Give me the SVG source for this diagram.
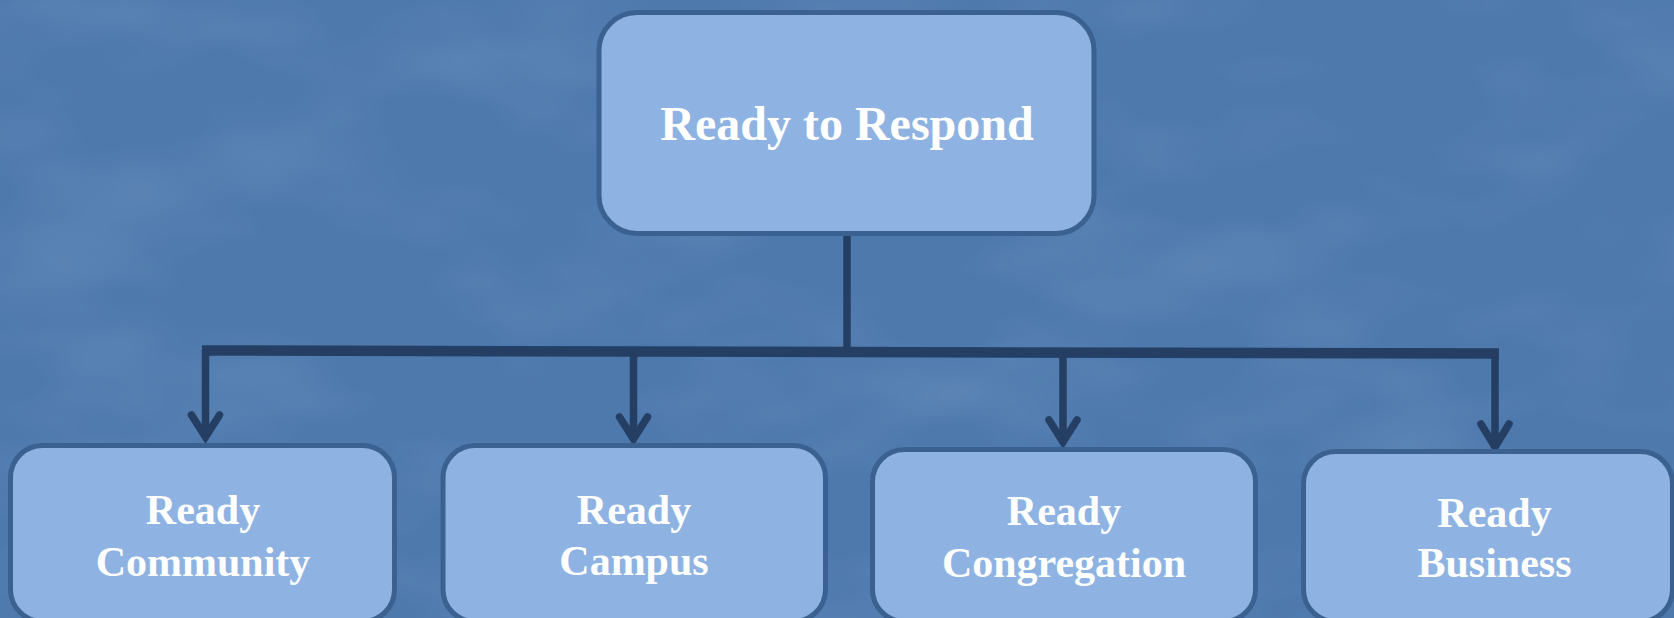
<svg xmlns="http://www.w3.org/2000/svg" width="1674" height="618" viewBox="0 0 1674 618">
  <style>
    .box { fill: #8eb3e2; stroke: #3a6190; stroke-width: 5; }
    .lbl { font-family: "Liberation Serif", "Times New Roman", serif; font-weight: bold; fill: #ffffff; text-anchor: middle; }
    .top { font-size: 48px; }
    .sub { font-size: 42px; }
    .conn { fill: none; stroke: #243f63; stroke-width: 7.5; }
    .bus { fill: none; stroke: #243f63; stroke-width: 10.5; }
    .head { fill: none; stroke: #243f63; stroke-width: 7.5; stroke-linecap: round; stroke-linejoin: miter; }
  </style>
  <defs>
    <filter id="mottle" x="0" y="0" width="100%" height="100%">
      <feTurbulence type="fractalNoise" baseFrequency="0.004 0.009" numOctaves="3" seed="7"/>
      <feColorMatrix type="matrix" values="0 0 0 0 0.40  0 0 0 0 0.57  0 0 0 0 0.78  0.9 0 0 0 -0.40"/>
    </filter>
  </defs>
  <rect x="0" y="0" width="1674" height="618" fill="#4e79ad"/>
  <rect x="0" y="0" width="1674" height="618" filter="url(#mottle)" opacity="0.45"/>

  <g id="connectors">
    <line class="conn" x1="847" y1="236" x2="847" y2="352"/>
    <line class="bus" x1="202" y1="350.5" x2="1499" y2="353.5"/>
    <line class="conn" x1="205.5" y1="350" x2="205.5" y2="436"/>
    <polyline class="head" points="191.5,415 205.5,437 219.5,415"/>
    <line class="conn" x1="633.5" y1="351" x2="633.5" y2="438"/>
    <polyline class="head" points="619.5,417 633.5,439 647.5,417"/>
    <line class="conn" x1="1063" y1="352" x2="1063" y2="441"/>
    <polyline class="head" points="1049,420 1063,442 1077,420"/>
    <line class="conn" x1="1495" y1="353" x2="1495" y2="446"/>
    <polyline class="head" points="1481,424 1495,447 1509,424"/>
  </g>

  <g id="ready-to-respond">
    <rect class="box" x="599" y="12.5" width="495" height="221" rx="38" ry="38"/>
    <text class="lbl top" x="847" y="140">Ready to Respond</text>
  </g>

  <g id="ready-community">
    <rect class="box" x="10.5" y="445.5" width="384" height="176" rx="32" ry="32"/>
    <text class="lbl sub" x="203" y="524">Ready</text>
    <text class="lbl sub" x="203" y="575.5">Community</text>
  </g>

  <g id="ready-campus">
    <rect class="box" x="443" y="445.5" width="382.5" height="176" rx="32" ry="32"/>
    <text class="lbl sub" x="634" y="523.5">Ready</text>
    <text class="lbl sub" x="634" y="575">Campus</text>
  </g>

  <g id="ready-congregation">
    <rect class="box" x="872.5" y="449.5" width="383" height="172" rx="32" ry="32"/>
    <text class="lbl sub" x="1064" y="525">Ready</text>
    <text class="lbl sub" x="1064" y="576.5">Congregation</text>
  </g>

  <g id="ready-business">
    <rect class="box" x="1303.5" y="451.5" width="369" height="170" rx="32" ry="32"/>
    <text class="lbl sub" x="1494.5" y="526.5">Ready</text>
    <text class="lbl sub" x="1494.5" y="577">Business</text>
  </g>
</svg>
